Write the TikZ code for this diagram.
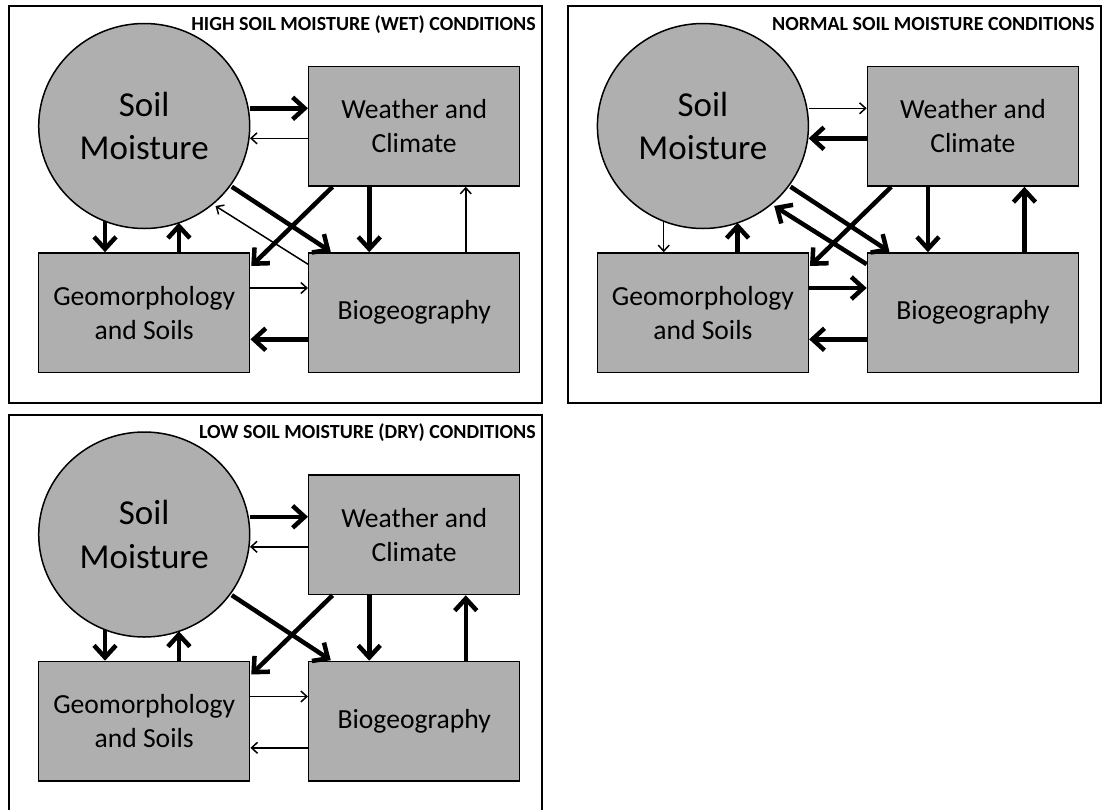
\documentclass[tikz,border=0pt]{standalone}
\usepackage{fontspec}
\setmainfont{Carlito}
\usetikzlibrary{arrows.meta,shapes.geometric}
\definecolor{boxgray}{RGB}{175,175,175}
\tikzset{
  frame/.style={draw=black,line width=2pt},
  titletext/.style={anchor=base east,inner sep=0pt,font=\bfseries\fontsize{20}{24}\selectfont},
  smnode/.style={ellipse,draw=black,line width=1.5pt,fill=boxgray,minimum width=211pt,minimum height=205pt,inner sep=0pt,align=center,font=\fontsize{35}{43.3}\selectfont},
  bx/.style={rectangle,draw=black,line width=1.5pt,fill=boxgray,minimum width=211pt,minimum height=119.5pt,inner sep=0pt,align=center,font=\fontsize{27.6}{34.3}\selectfont},
  bigarr/.style={line width=4.5pt,-{Straight Barb[length=12pt,width=22pt]}},
  smallarr/.style={line width=1.5pt,-{Straight Barb[length=6pt,width=11pt]}},
}
\newcommand\panelbase[2]{%
  \draw[frame] (8.8,6) rectangle (542,402.5);
  \node[titletext] (t#1) at (536,30) {#2};
  \node[smnode] (sm#1) at (144.2,126) {Soil\\Moisture};
  \node[bx] (wc#1) at (414.2,126.3) {Weather and\\Climate};
  \node[bx] (geo#1) at (144.2,312.7) {Geomorphology\\and Soils};
  \node[bx] (bio#1) at (414.2,312.7) {Biogeography};
  \draw[A1] ([shift={(0,-17.7)}]sm#1.east) -- ([shift={(0,-18)}]wc#1.west);
  \draw[A2] ([shift={(0,12)}]wc#1.west) -- ([shift={(-0.5,12.3)}]sm#1.east);
  \draw[A3] ([shift={(87.6,60.7)}]sm#1.center) -- ([shift={(22.8,-0.5)}]bio#1.north west);
  \draw[A5] ([shift={(24.6,0)}]wc#1.south west) -- ([shift={(0.8,13.8)}]geo#1.north east);
  \draw[A6] ([shift={(61.3,0)}]wc#1.south west) -- ([shift={(61.3,0)}]bio#1.north west);
  \draw[A7] ([shift={(157.8,0)}]bio#1.north west) -- ([shift={(157.8,0)}]wc#1.south west);
  \draw[A8] ([shift={(-39.2,95.2)}]sm#1.center) -- ([shift={(-39.2,0)}]geo#1.north);
  \draw[A9] ([shift={(34.7,0)}]geo#1.north) -- ([shift={(34.7,96.8)}]sm#1.center);
  \draw[A10] ([shift={(0,-24.7)}]geo#1.east) -- ([shift={(0,-24.7)}]bio#1.west);
  \draw[A11] ([shift={(0,26.6)}]bio#1.west) -- ([shift={(0,26.6)}]geo#1.east);
}
\begin{document}
\begin{tikzpicture}[x=1pt,y=-1pt]
\useasboundingbox[fill=white] (0,0) rectangle (1102,809);
% Panel 1: wet
\begin{scope}[A1/.style=bigarr,A2/.style=smallarr,A3/.style=bigarr,A5/.style=bigarr,
  A6/.style=bigarr,A7/.style=smallarr,A8/.style=bigarr,A9/.style=bigarr,
  A10/.style=smallarr,A11/.style=bigarr]
  \panelbase{a}{HIGH SOIL MOISTURE (WET) CONDITIONS}
  \draw[smallarr] ([shift={(0,12)}]bioa.north west) -- ([shift={(71.3,80)}]sma.center);
\end{scope}
% Panel 2: normal
\begin{scope}[shift={(558.7,0)},A1/.style=smallarr,A2/.style=bigarr,A3/.style=bigarr,A5/.style=bigarr,
  A6/.style=bigarr,A7/.style=bigarr,A8/.style=smallarr,A9/.style=bigarr,
  A10/.style=bigarr,A11/.style=bigarr]
  \panelbase{b}{NORMAL SOIL MOISTURE CONDITIONS}
  \draw[bigarr] ([shift={(0,12)}]biob.north west) -- ([shift={(71.3,80)}]smb.center);
\end{scope}
% Panel 3: dry
\begin{scope}[shift={(0,408.5)},A1/.style=bigarr,A2/.style=smallarr,A3/.style=bigarr,A5/.style=bigarr,
  A6/.style=bigarr,A7/.style=bigarr,A8/.style=bigarr,A9/.style=bigarr,
  A10/.style=smallarr,A11/.style=smallarr]
  \panelbase{c}{LOW SOIL MOISTURE (DRY) CONDITIONS}
\end{scope}
\end{tikzpicture}
\end{document}
